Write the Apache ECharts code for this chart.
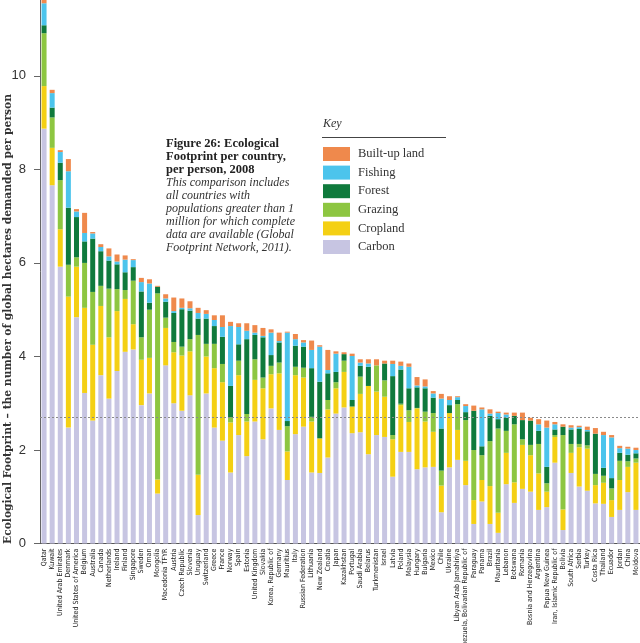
<!DOCTYPE html>
<html><head><meta charset="utf-8">
<script src="https://cdn.jsdelivr.net/npm/echarts@6/dist/echarts.min.js"></script>
<style>html,body{margin:0;padding:0;background:#fff}#c{width:640px;height:643px}</style>
</head><body><div id="c"></div>
<script>
const countries = ["Qatar","Kuwait","United Arab Emirates","Denmark","United States of America","Belgium","Australia","Canada","Netherlands","Ireland","Finland","Singapore","Sweden","Oman","Mongolia","Macedonia TFYR","Austria","Czech Republic","Slovenia","Uruguay","Switzerland","Greece","France","Norway","Spain","Estonia","United Kingdom","Slovakia","Korea, Republic of","Germany","Mauritius","Italy","Russian Federation","Lithuania","New Zealand","Croatia","Japan","Kazakhstan","Portugal","Saudi Arabia","Belarus","Turkmenistan","Israel","Latvia","Poland","Malaysia","Hungary","Bulgaria","Mexico","Chile","Ukraine","Libyan Arab Jamahiriya","Venezuela, Bolivarian Republic of","Paraguay","Panama","Brazil","Mauritania","Lebanon","Botswana","Romania","Bosnia and Herzegovina","Argentina","Papua New Guinea","Iran, Islamic Republic of","Bolivia","South Africa","Serbia","Turkey","Costa Rica","Thailand","Ecuador","Jordan","China","Moldova"];

const carbon = [8.87,7.66,5.92,2.48,4.84,3.22,2.63,3.60,3.10,3.69,4.10,4.15,2.96,3.21,1.07,3.81,3.00,2.84,3.17,0.61,3.21,2.48,2.20,1.52,2.32,1.87,2.61,2.23,2.89,2.43,1.36,2.34,2.50,1.52,1.51,1.84,2.78,2.91,2.36,2.38,1.91,2.32,2.28,1.43,1.96,1.96,1.59,1.63,1.64,0.67,1.63,1.79,1.25,0.42,0.90,0.42,0.23,1.27,0.87,1.17,1.11,0.72,0.78,1.73,0.29,1.51,1.22,1.13,0.86,0.85,0.57,0.72,1.10,0.72];
const cropland = [0.91,0.80,0.80,2.80,1.08,1.82,1.62,1.48,1.31,1.28,1.13,0.54,0.97,0.76,0.30,0.80,1.09,1.18,0.94,0.86,0.79,1.27,1.25,1.07,1.28,0.74,0.89,1.09,0.73,1.21,0.61,1.26,1.05,1.09,0.74,1.03,0.54,0.76,0.57,0.82,1.46,0.93,0.86,0.80,1.00,0.64,1.30,0.98,0.75,0.57,1.16,0.64,0.52,0.51,0.46,0.81,0.43,0.67,0.44,0.94,0.78,0.78,0.33,0.55,0.44,0.43,0.84,0.90,0.39,0.45,0.36,0.64,0.54,1.01];
const grazing = [1.13,0.65,1.05,0.68,0.20,0.96,1.13,0.43,1.04,0.47,0.19,0.93,0.48,1.03,3.98,0.22,0.22,0.19,0.26,2.99,0.27,0.52,0.39,0.11,0.31,0.16,0.44,0.23,0.18,0.23,0.54,0.18,0.21,0.10,0.00,0.20,0.13,0.24,0.00,0.37,0.00,0.56,0.35,0.09,0.03,0.25,0.01,0.21,0.40,0.32,0.00,0.55,0.87,1.07,0.53,0.96,1.80,0.47,1.24,0.12,0.22,0.63,0.18,0.04,1.59,0.19,0.07,0.07,0.24,0.15,0.25,0.41,0.12,0.09];
const forest = [0.17,0.21,0.37,1.22,0.86,0.46,1.14,0.74,0.60,0.53,0.38,0.29,0.98,0.15,0.14,0.34,0.62,0.80,0.61,0.35,0.54,0.38,0.58,0.67,0.35,1.60,0.52,0.86,0.23,0.43,0.11,0.45,0.45,1.04,1.21,0.57,0.22,0.14,0.14,0.23,0.41,0.00,0.36,1.26,0.73,0.47,0.44,0.50,0.33,0.90,0.17,0.09,0.17,0.84,0.19,0.54,0.20,0.28,0.18,0.41,0.52,0.28,0.35,0.12,0.18,0.31,0.32,0.30,0.86,0.17,0.22,0.17,0.14,0.11];
const fishing = [0.47,0.31,0.23,0.78,0.12,0.18,0.11,0.09,0.09,0.06,0.27,0.15,0.20,0.41,0.00,0.07,0.04,0.03,0.05,0.12,0.10,0.13,0.21,1.28,0.37,0.18,0.05,0.03,0.48,0.03,1.89,0.14,0.09,0.39,0.75,0.07,0.39,0.00,0.94,0.07,0.07,0.00,0.00,0.26,0.08,0.46,0.04,0.04,0.09,0.64,0.11,0.06,0.13,0.00,0.79,0.05,0.13,0.07,0.00,0.00,0.00,0.14,0.84,0.11,0.00,0.04,0.04,0.03,0.00,0.70,0.87,0.10,0.13,0.07];
const builtUp = [0.13,0.07,0.04,0.26,0.05,0.43,0.03,0.06,0.17,0.15,0.09,0.02,0.09,0.09,0.02,0.09,0.29,0.20,0.15,0.11,0.08,0.10,0.25,0.09,0.08,0.16,0.16,0.17,0.07,0.18,0.02,0.11,0.05,0.20,0.03,0.43,0.05,0.04,0.05,0.07,0.09,0.13,0.06,0.07,0.09,0.07,0.18,0.15,0.05,0.10,0.08,0.02,0.04,0.11,0.04,0.09,0.03,0.04,0.07,0.16,0.06,0.11,0.15,0.05,0.05,0.05,0.03,0.07,0.12,0.07,0.05,0.05,0.04,0.05];

const worldAverage = 2.7;
const yTicks = [0,2,4,6,8,10];

const seriesDefs = [
  {name:"Carbon", data:carbon, color:"#c7c5e2"},
  {name:"Cropland", data:cropland, color:"#f4d014"},
  {name:"Grazing", data:grazing, color:"#8dc641"},
  {name:"Forest", data:forest, color:"#0f7a3c"},
  {name:"Fishing", data:fishing, color:"#4cc4ec"},
  {name:"Built-up land", data:builtUp, color:"#ef894c"}
];

const serif = "'Liberation Serif','DejaVu Serif',serif";
const narrow = "'Liberation Sans Narrow','DejaVu Sans Condensed','Liberation Sans',sans-serif";

const chart = echarts.init(document.getElementById('c'), null, {renderer:'canvas'});
const series = seriesDefs.map((s, k) => ({
  name: s.name, type: 'bar', stack: 'total', data: s.data, barWidth: 5,
  itemStyle: {color: s.color}, emphasis: {disabled: true},
  markLine: k === 0 ? {
    silent: true, symbol: ['none','none'], label: {show:false},
    lineStyle: {color:'#8a8a8a', type:[2,2], width:1},
    data: [{yAxis: worldAverage}]
  } : undefined
}));

chart.setOption({
  animation: false,
  backgroundColor: '#fff',
  grid: {left: 40, right: 0, top: 0, bottom: 99.4, containLabel: false, outerBoundsMode: 'none'},
  xAxis: {
    type: 'category', data: countries,
    axisLine: {lineStyle: {color:'#555', width:1}},
    axisTick: {show:false},
    axisLabel: {rotate: 90, interval: 0, fontSize: 7, fontFamily: narrow, color:'#222', margin: 5}
  },
  yAxis: {
    type: 'value', min: 0, max: 11.62, interval: 2,
    axisLine: {show:true, lineStyle: {color:'#666', width:1}},
    axisTick: {show:true, length: 6, lineStyle:{color:'#666'}},
    splitLine: {show:false},
    axisLabel: {fontSize: 13, color:'#333', fontFamily:"'Liberation Sans',Arial,sans-serif", margin: 14,
      showMaxLabel: false,
      formatter: v => yTicks.indexOf(v) >= 0 ? String(v) : ''}
  },
  legend: {
    data: ["Built-up land","Fishing","Forest","Grazing","Cropland","Carbon"],
    orient: 'vertical', left: 318, top: 142, itemWidth: 27, itemHeight: 14, itemGap: 4.6,
    icon: 'rect', selectedMode: false,
    textStyle: {fontFamily: serif, fontSize: 12.5, color:'#333', padding:[0,0,0,3]}
  },
  graphic: [
    {type:'text', x: 8, y: 319, rotation: Math.PI/2,
      style:{text:'Ecological Footprint – the number of global hectares demanded per person',
        font:"bold 10.7px 'DejaVu Serif','Liberation Serif',serif", fill:'#333', align:'center', verticalAlign:'middle'}},
    {type:'text', x: 166, y: 137,
      style:{text:'Figure 26: Ecological\nFootprint per country,\nper person, 2008',
        font:"bold 12.5px 'Liberation Serif','DejaVu Serif',serif", fill:'#222', lineHeight: 13}},
    {type:'text', x: 166, y: 176,
      style:{text:'This comparison includes\nall countries with\npopulations greater than 1\nmillion for which complete\ndata are available (Global\nFootprint Network, 2011).',
        font:"italic 12px 'Liberation Serif','DejaVu Serif',serif", fill:'#333', lineHeight: 13}},
    {type:'text', x: 323, y: 118,
      style:{text:'Key', font:"italic 12px 'Liberation Serif','DejaVu Serif',serif", fill:'#333'}},
    {type:'line', shape:{x1:322, y1:137.5, x2:446, y2:137.5}, style:{stroke:'#444', lineWidth:1}}
  ],
  series: series
});
</script></body></html>
